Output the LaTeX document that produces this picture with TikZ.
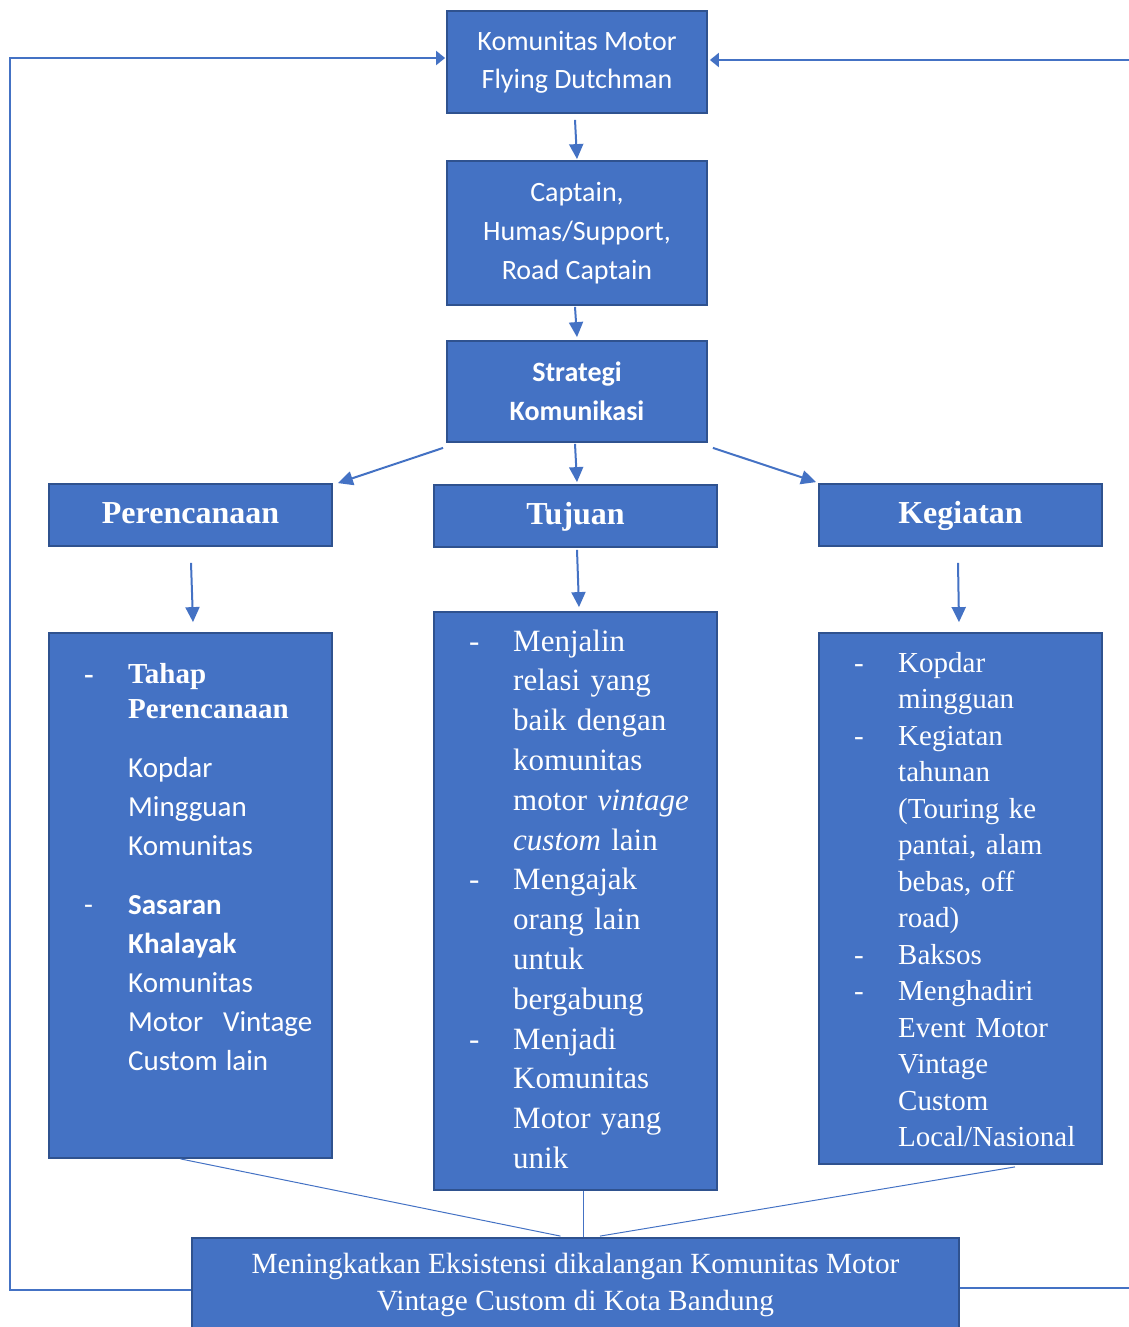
\documentclass[tikz,border=0pt]{standalone}
\usepackage{fontspec}
\setmainfont{Liberation Serif}
\setsansfont{Carlito}
\usetikzlibrary{arrows.meta}
\definecolor{bx}{HTML}{4472C4}
\definecolor{bd}{HTML}{2F528F}
\newcommand{\itm}{\leavevmode\llap{\makebox[44pt][l]{-}}}

\begin{document}
\begin{tikzpicture}[x=1pt,y=-1pt,
  box/.style={draw=bd,line width=1.8pt,fill=bx,text=white,align=center,inner sep=0pt},
  head/.style={box,minimum width=283pt,minimum height=62pt,text height=23pt,text depth=6pt,font=\bfseries\fontsize{32}{38}\selectfont},
  lst/.style={text=white,align=left,text width=260pt,inner sep=0pt,anchor=base west},
  arr/.style={draw=bx,line width=2pt,-{Triangle[length=15pt,width=14pt]}},
  link/.style={draw=bx,line width=1pt},
  fb/.style={draw=bx,line width=2pt},
  fbarr/.style={fb,-{Triangle[length=9pt,width=14pt]}}]
            \useasboundingbox (0,0) rectangle (1129,1327);
            % top part
            \node[box,minimum width=260pt,minimum height=102pt,font=\sffamily\fontsize{28}{38}\selectfont] (kmfd) at (577,62) {Komunitas Motor\\Flying Dutchman};
            \node[box,minimum width=260pt,minimum height=144pt,font=\sffamily\fontsize{28}{39}\selectfont] (capt) at (577,233) {Captain,\\Humas/Support,\\Road Captain};
            \node[box,minimum width=260pt,minimum height=101pt,font=\sffamily\bfseries\fontsize{28}{39}\selectfont] (strat) at (577,391.5) {Strategi\\Komunikasi};
            % three columns
            \node[head] (renc) at (190.5,515) {Perencanaan};
            \node[head] (tuj) at (575.5,516) {Tujuan};
            \node[head] (keg) at (960.5,515) {Kegiatan};
            \node[box,minimum width=283pt,minimum height=525pt] (lrenc) at (190.5,895.5) {};
            \node[box,minimum width=283pt,minimum height=578pt] (ltuj) at (575.5,901) {};
            \node[box,minimum width=283pt,minimum height=531pt] (lkeg) at (960.5,898.5) {};
            \node[lst] (trenc) at (128,683) {%
              {\bfseries\fontsize{29}{35}\selectfont\itm Tahap\\Perencanaan\par}
              \vspace{20pt}
              {\sffamily\fontsize{29}{39}\selectfont Kopdar\\Mingguan\\Komunitas\par}
              \vspace{20pt}
              {\sffamily\fontsize{29}{39}\selectfont\itm\textbf{Sasaran}\\\textbf{Khalayak}\\Komunitas\\Motor\hspace*{20pt}Vintage\\Custom\hspace*{8pt}lain\par}};
            \node[lst,font=\fontsize{31}{39.8}\selectfont] (ttuj) at (513,651) {\itm Menjalin\\relasi yang\\baik dengan\\komunitas\\motor \textit{vintage}\\\textit{custom} lain\\\itm Mengajak\\orang lain\\untuk\\bergabung\\\itm Menjadi\\Komunitas\\Motor yang\\unik};
            \node[lst,font=\fontsize{29}{36.5}\selectfont] (tkeg) at (898,672) {\itm Kopdar\\mingguan\\\itm Kegiatan\\tahunan\\(Touring ke\\pantai, alam\\bebas, off\\road)\\\itm Baksos\\\itm Menghadiri\\Event Motor\\Vintage\\Custom\\Local/Nasional};
            % result
            \node[box,minimum width=767pt,minimum height=94pt,font=\fontsize{29.3}{37}\selectfont] (hasil) at (575.5,1285) {Meningkatkan Eksistensi dikalangan Komunitas Motor\\Vintage Custom di Kota Bandung};
            % arrows
            \draw[arr] ([shift={(-2,6)}]kmfd.south) -- ([shift={(0,-1)}]capt.north);
            \draw[arr] ([shift={(-2,1)}]capt.south) -- ([shift={(0,-3)}]strat.north);
            \draw[arr] ([shift={(-2,1)}]strat.south) -- ([shift={(1.5,-2)}]tuj.north);
            \draw[arr] ([shift={(-3,5)}]strat.south west) -- ([shift={(5,0)}]renc.north east);
            \draw[arr] ([shift={(5,5)}]strat.south east) -- ([shift={(-2,-1)}]keg.north west);
            \draw[arr] ([shift={(0.5,16)}]renc.south) -- ([shift={(2.5,-10)}]lrenc.north);
            \draw[arr] ([shift={(1.5,2)}]tuj.south) -- ([shift={(3.5,-4)}]ltuj.north);
            \draw[arr] ([shift={(-2.5,16)}]keg.south) -- ([shift={(-1.5,-10)}]lkeg.north);
            \draw[link] ([shift={(-10,0)}]lrenc.south) -- ([shift={(-15,-1)}]hasil.north);
            \draw[link] ([shift={(7.5,0)}]ltuj.south) -- ([shift={(7.5,0)}]hasil.north);
            \draw[link] ([shift={(54.5,2)}]lkeg.south) -- ([shift={(24.5,-1)}]hasil.north);
            % feedback
            \coordinate (lb) at (10,1290);
            \coordinate (lt) at (10,58);
            \coordinate (rb) at (1129,1288);
            \coordinate (rt) at (1129,60);
            \draw[fbarr] ([shift={(0,5)}]hasil.west) -- (lb) -- (lt) -- ([shift={(-1,-4)}]kmfd.west);
            \draw[fb] ([shift={(0,3)}]hasil.east) -- (rb);
            \draw[fbarr] (rt) -- ([shift={(2,-2)}]kmfd.east);
          \end{tikzpicture}
\end{document}
